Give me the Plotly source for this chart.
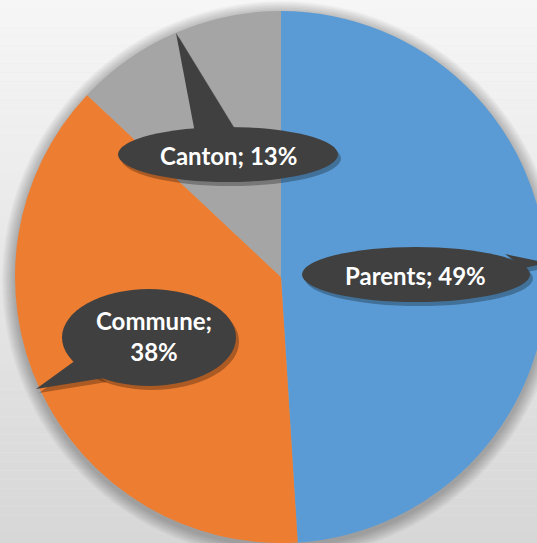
import plotly.graph_objects as go

labels = ["Parents", "Commune", "Canton"]
values = [49, 38, 13]
colors = ["#5B9BD5", "#ED7D31", "#A5A5A5"]
callout_texts = ["Parents; 49%", "Commune;<br>38%", "Canton; 13%"]

# figure is slightly wider than the window so the pie can be cropped on the right
W, H = 552, 543


def px(x):
    return x / W


def py(y):
    return 1 - y / H


fig = go.Figure(
    go.Pie(
        labels=labels,
        values=values,
        marker=dict(colors=colors, line=dict(width=0)),
        sort=False,
        direction="clockwise",
        rotation=0,
        textinfo="none",
        hoverinfo="label+percent",
        showlegend=False,
        domain=dict(x=[px(15), px(547)], y=[0.0, py(11)]),
    )
)

shapes = []
# background gradient
n = 60
c_top = (246, 246, 246)
c_bot = (215, 215, 215)
for i in range(n):
    t = i / (n - 1)
    c = tuple(int(round(a + (b - a) * t)) for a, b in zip(c_top, c_bot))
    shapes.append(dict(type="rect", xref="paper", yref="paper", x0=0, x1=1,
                       y0=1 - (i + 1) / n, y1=1 - i / n, layer="below",
                       line=dict(width=0), fillcolor="rgb(%d,%d,%d)" % c))
# soft pie shadow
cx, cy, r = 281, 277, 266
for k in range(1, 9):
    rr = r + k * 1.6
    shapes.append(dict(type="circle", xref="paper", yref="paper",
                       x0=px(cx - rr), x1=px(cx + rr), y0=py(cy + 3 + rr), y1=py(cy + 3 - rr),
                       layer="below", line=dict(width=0), fillcolor="rgba(0,0,0,0.035)"))

callout_fill = "#404040"
shadow_fill = "rgba(0,0,0,0.28)"

# callouts: ellipse box (x0, y0, x1, y1) in px and tail triangle
callouts = [
    dict(box=(302, 247, 530, 302), tail=[(505, 254), (524, 268), (548, 263)], text=(415, 275)),
    dict(box=(62, 289, 236, 386), tail=[(76, 360), (104, 378), (36, 389)], text=(154, 336)),
    dict(box=(118, 127, 338, 182), tail=[(195, 133), (236, 131), (176, 33)], text=(228, 156)),
]


def tri_path(pts, dx=0, dy=0):
    return "M " + " L ".join("%f,%f" % (px(x + dx), py(y + dy)) for x, y in pts) + " Z"


for c in callouts:
    x0, y0, x1, y1 = c["box"]
    # shadow
    shapes.append(dict(type="circle", xref="paper", yref="paper",
                       x0=px(x0 + 3), x1=px(x1 + 3), y0=py(y1 + 4), y1=py(y0 + 4),
                       layer="above", line=dict(width=0), fillcolor=shadow_fill))
    shapes.append(dict(type="path", xref="paper", yref="paper", path=tri_path(c["tail"], 3, 4),
                       layer="above", line=dict(width=0), fillcolor=shadow_fill))
for c in callouts:
    x0, y0, x1, y1 = c["box"]
    shapes.append(dict(type="path", xref="paper", yref="paper", path=tri_path(c["tail"]),
                       layer="above", line=dict(width=0), fillcolor=callout_fill))
    shapes.append(dict(type="circle", xref="paper", yref="paper",
                       x0=px(x0), x1=px(x1), y0=py(y1), y1=py(y0),
                       layer="above", line=dict(width=0), fillcolor=callout_fill))

annotations = []
for c, t in zip(callouts, callout_texts):
    tx, ty = c["text"]
    annotations.append(dict(x=px(tx), y=py(ty), xref="paper", yref="paper", text="<b>%s</b>" % t,
                            showarrow=False, xanchor="center", yanchor="middle",
                            font=dict(family="Lato, Open Sans, sans-serif", size=24, color="white"),
                            align="center"))

fig.update_layout(
    width=W, height=H,
    margin=dict(l=0, r=0, t=0, b=0),
    paper_bgcolor="#e8e8e8",
    plot_bgcolor="#e8e8e8",
    shapes=shapes,
    annotations=annotations,
    showlegend=False,
)

fig.write_html("out.html",
               config={"displayModeBar": False},
               post_script="document.body.style.margin='0';document.body.style.overflow='hidden';")
